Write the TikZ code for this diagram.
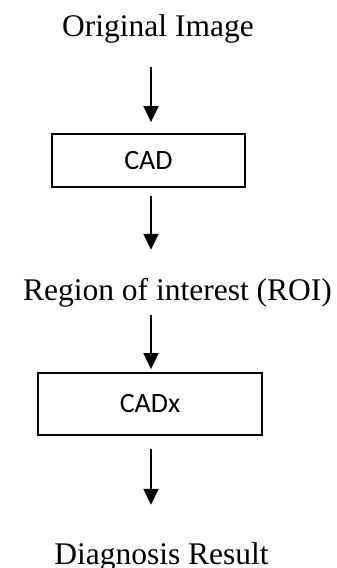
\documentclass[tikz,border=0pt]{standalone}
\usepackage{fontspec}
\setmainfont{Liberation Serif}
\newfontfamily\boxfont{Carlito}
\usetikzlibrary{arrows.meta}

\tikzset{
  label/.style={inner sep=0pt, anchor=base, font=\fontsize{31.5}{36}\selectfont,
                text height=21pt, text depth=0pt},
  stage/.style={draw, line width=1.8pt, inner sep=0pt,
                font=\boxfont\fontsize{28}{32}\selectfont},
  flow/.style={line width=1.8pt, -{Triangle[width=15pt,length=16pt]}}
}

\begin{document}
\begin{tikzpicture}[x=1pt,y=1pt]
  \useasboundingbox (0,0) rectangle (337,568);
  \coordinate (ax) at (151,0);

  \node[label] (orig) at (158,531) {Original Image};
  \node[stage, minimum width=193pt, minimum height=53pt] (cad) at (148.5,407.5) {CAD};
  \node[label] (roi) at (177.5,267) {Region of interest (ROI)};
  \node[stage, minimum width=224pt, minimum height=62pt] (cadx) at (150,164) {CADx};
  \node[label] (diag) at (161.5,3) {Diagnosis Result};

  \draw[flow, shorten <=30pt, shorten >=11pt] (orig.south -| ax) -- (cad.north -| ax);
  \draw[flow, shorten <=8pt,  shorten >=30pt] (cad.south -| ax)  -- (roi.north -| ax);
  \draw[flow, shorten <=14pt, shorten >=3pt]  (roi.south -| ax)  -- (cadx.north -| ax);
  \draw[flow, shorten <=13pt, shorten >=39pt] (cadx.south -| ax) -- (diag.north -| ax);
\end{tikzpicture}
\end{document}
